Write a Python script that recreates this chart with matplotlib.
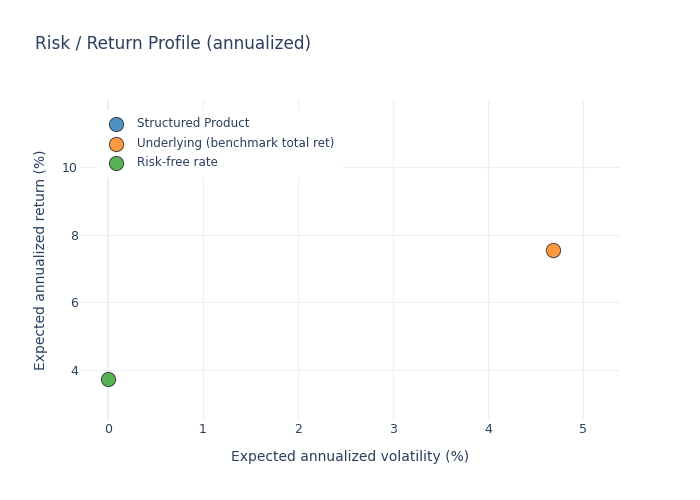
import numpy as np
import matplotlib
matplotlib.use("Agg")
import matplotlib.pyplot as plt

plt.rcParams['font.family'] = ['DejaVu Sans']

# values
names = ["Structured Product", "Underlying (benchmark total ret)", "Risk-free rate"]
vol = [[], [4.68], [0.0]]
ret = [[], [7.55], [3.73]]
colors = ["#1f77b4", "#ff7f0e", "#2ca02c"]

txt = "#2a3f5f"
grid = "#ebf0f8"

fig = plt.figure(figsize=(7, 5), dpi=100)
ax = fig.add_axes([80 / 700, 80 / 500, 540 / 700, 320 / 500])

for n, x, y, c in zip(names, vol, ret, colors):
    ax.scatter(x, y, s=105, color=c, alpha=0.8, edgecolors="#333333",
               linewidths=0.8, label=n, zorder=3)

ax.set_xlim(-0.295, 5.39)
ax.set_ylim(2.525, 11.97)
ax.set_xticks([0, 1, 2, 3, 4, 5])
ax.set_yticks([4, 6, 8, 10])
ax.grid(True, color=grid, linewidth=0.75)
ax.axvline(0, color=grid, linewidth=1.5, zorder=1)
ax.set_axisbelow(True)
for s in ax.spines.values():
    s.set_visible(False)
ax.tick_params(length=0, colors=txt, labelsize=9)
ax.tick_params(axis="x", pad=2)
ax.tick_params(axis="y", pad=1.5)

ax.set_xlabel("Expected annualized volatility (%)", color=txt, fontsize=10, labelpad=10)
ax.set_ylabel("Expected annualized return (%)", color=txt, fontsize=10, labelpad=10)

fig.text(35 / 700, 1 - 44 / 500, "Risk / Return Profile (annualized)", color=txt,
         fontsize=12.2, va="center", ha="left")

leg = ax.legend(loc="upper left", bbox_to_anchor=(97 / 700, 1 - 110 / 500),
                bbox_transform=fig.transFigure, frameon=True, fancybox=False,
                framealpha=1, edgecolor="white", facecolor="white", fontsize=8.6,
                labelspacing=0.55, handletextpad=0.75, borderpad=0.6,
                borderaxespad=0)
for t in leg.get_texts():
    t.set_color(txt)
leg.set_zorder(5)

fig.savefig("out.png", dpi=100)
